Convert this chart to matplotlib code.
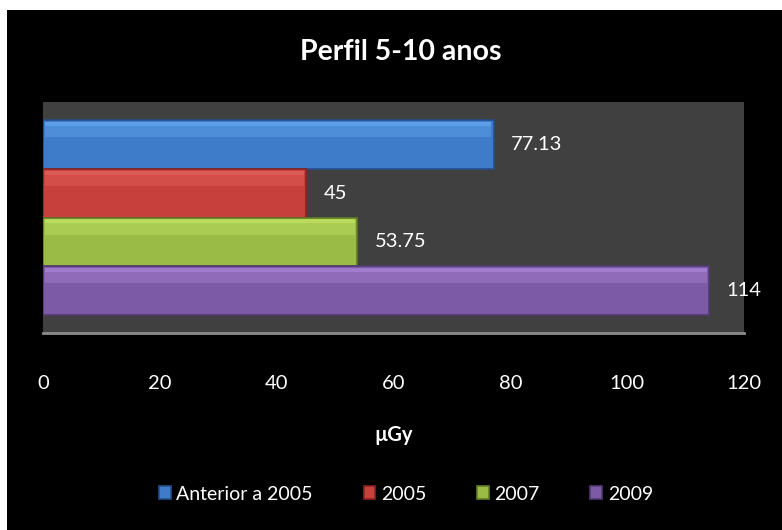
import matplotlib

matplotlib.use("Agg")
import matplotlib.pyplot as plt
from matplotlib.patches import Rectangle

plt.rcParams["font.family"] = ["Lato", "DejaVu Sans"]

TITLE = "Perfil 5-10 anos"
SERIES = ["Anterior a 2005", "2005", "2007", "2009"]
VALUES = [77.13, 45, 53.75, 114]
LABELS = ["77.13", "45", "53.75", "114"]
XTICKS = [0, 20, 40, 60, 80, 100, 120]
XLABEL = "µGy"

COLORS = ["#3e7cca", "#c8403b", "#9abc47", "#7d5aa5"]
LIGHT = ["#62a4ea", "#e2605a", "#bfe062", "#a680d2"]
DARK = ["#234f8a", "#8a2422", "#627d25", "#523a73"]

fig = plt.figure(figsize=(7.82, 5.3), dpi=100, facecolor="white")
# black chart area with a thin white margin at top/left
fig.patches.append(Rectangle((7 / 782, 0), 1, 1 - 10 / 530, transform=fig.transFigure,
                             facecolor="black", edgecolor="none", zorder=-10))

ax = fig.add_axes([43 / 782, 1 - 333 / 530, (744 - 43) / 782, (333 - 102) / 530])
ax.set_facecolor("#404040")

n = len(VALUES)
pos = [n - 1 - i for i in range(n)]
h = 1.0
for i in range(n):
    ax.barh(pos[i], VALUES[i], height=h, color=COLORS[i], edgecolor=DARK[i], linewidth=1.2,
            label=SERIES[i], zorder=2)
    # soft bevel highlight on the upper part of the bar
    ax.barh(pos[i] + 0.3, VALUES[i] - 0.8, left=0.4, height=0.3, color=LIGHT[i],
            edgecolor="none", zorder=3, alpha=0.45)
    ax.barh(pos[i] + 0.42, VALUES[i] - 0.8, left=0.4, height=0.08, color=LIGHT[i],
            edgecolor="none", zorder=3, alpha=0.8)
    ax.text(VALUES[i] + 3, pos[i], LABELS[i], color="white", fontsize=14.5,
            va="center", ha="left", zorder=4)

ax.set_xlim(0, 120)
ax.set_ylim(-0.5 - 0.37, n - 0.5 + 0.37)
ax.set_xticks(XTICKS)
ax.set_xticklabels([str(t) for t in XTICKS], color="white", fontsize=14.5)
ax.tick_params(axis="x", length=0, pad=30)
ax.set_yticks([])
for side in ["top", "left", "right"]:
    ax.spines[side].set_visible(False)
ax.spines["bottom"].set_color("#8c8c8c")
ax.spines["bottom"].set_linewidth(2)

ax.set_xlabel(XLABEL, color="white", fontsize=14.5, fontweight="bold", labelpad=24)
fig.text(401 / 782, 1 - 52 / 530, TITLE, color="white", fontsize=20.5, fontweight="bold",
         ha="center", va="center")

handles, labels = ax.get_legend_handles_labels()
leg = fig.legend(handles, labels, loc="center", bbox_to_anchor=(0.5 + 15 / 782, 1 - 494 / 530),
                 ncol=4, frameon=False, fontsize=14, handlelength=0.6, handleheight=0.6,
                 handletextpad=0.3, columnspacing=2.6)
for t in leg.get_texts():
    t.set_color("white")

fig.savefig("out.png", dpi=100, facecolor=fig.get_facecolor())
